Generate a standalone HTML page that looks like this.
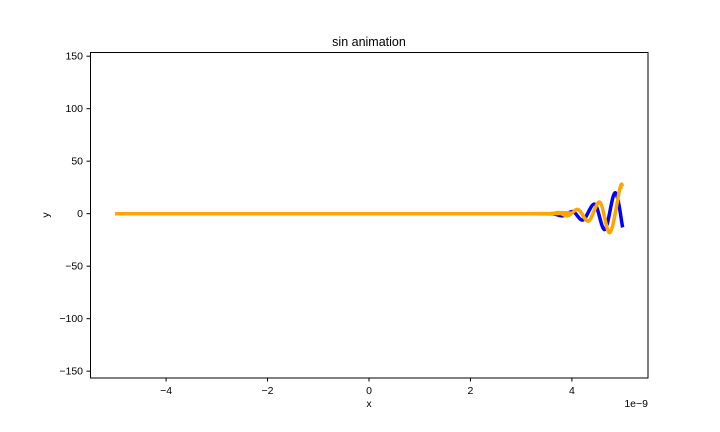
<!DOCTYPE html>
<html><head><meta charset="utf-8"><style>
body{margin:0;background:#fff}
svg{display:block;font-family:"Liberation Sans","DejaVu Sans",sans-serif}
</style></head><body>
<svg id="chart" width="720" height="432">
<rect width="720" height="432" fill="#fff"/>
<text x="369" y="46" text-anchor="middle" font-size="12.5">sin animation</text>
<g id="xt"></g>
<g id="yt"></g>
<g id="plot"></g>
<rect x="90.5" y="52.5" width="557.5" height="325.5" fill="none" stroke="#000" stroke-width="1"/>
<text x="369" y="407" text-anchor="middle" font-size="10.5">x</text>
<text x="49" y="215" text-anchor="middle" font-size="10.5" transform="rotate(-90 49 215)">y</text>
<text x="648" y="407" text-anchor="end" font-size="10.5">1e−9</text>
</svg>
<script>
const xTicks=[-4,-2,0,2,4];
const yTicks=[-150,-100,-50,0,50,100,150];
const blueX=[-5,3.2,3.6,3.82,4.02,4.22,4.45,4.65,4.85,5.0];
const blueY=[0,0,0,-2,2,-6,9,-15,20,-13];
const orangeX=[-5,3.2,3.7,3.92,4.12,4.33,4.55,4.75,4.95,5.0];
const orangeY=[0,0,1,-2,4,-7,11,-18,25,25];
const X0=90,X1=648,Y0=52,Y1=378,xmin=-5.5,xmax=5.5,ymin=-156.5,ymax=154;
const sx=v=>X0+(v-xmin)/(xmax-xmin)*(X1-X0);
const sy=v=>Y1-(v-ymin)/(ymax-ymin)*(Y1-Y0);
const NS="http://www.w3.org/2000/svg";
const xt=document.getElementById('xt'),yt=document.getElementById('yt'),plot=document.getElementById('plot');
xTicks.forEach(t=>{
 const l=document.createElementNS(NS,'line');
 
 
 l.setAttribute('x1',sx(t));l.setAttribute('x2',sx(t));l.setAttribute('y1',378);l.setAttribute('y2',381.5);l.setAttribute('stroke','#000');xt.appendChild(l);
 const s=document.createElementNS(NS,'text');
 
 
 s.setAttribute('x',sx(t));s.setAttribute('y',394);s.setAttribute('text-anchor','middle');s.setAttribute('font-size','10.5');
 s.textContent=(t<0?'−':'')+Math.abs(t);xt.appendChild(s);
});
yTicks.forEach(t=>{
 const l=document.createElementNS(NS,'line');
 
 
 l.setAttribute('x1',86.5);l.setAttribute('x2',90);l.setAttribute('y1',sy(t));l.setAttribute('y2',sy(t));l.setAttribute('stroke','#000');yt.appendChild(l);
 const s=document.createElementNS(NS,'text');
 
 
 s.setAttribute('x',83);s.setAttribute('y',sy(t)+3.5);s.setAttribute('text-anchor','end');s.setAttribute('font-size','10.5');
 s.textContent=(t<0?'−':'')+Math.abs(t);yt.appendChild(s);
});
function line(xs,ys,c,name){
 const P=xs.map((x,i)=>[sx(x),sy(ys[i])]);
 let d='M'+P[0][0]+','+P[0][1];
 for(let i=0;i<P.length-1;i++){
  const p0=P[Math.max(i-1,0)],p1=P[i],p2=P[i+1],p3=P[Math.min(i+2,P.length-1)];
  const c1=[p1[0]+(p2[0]-p0[0])/6,p1[1]+(p2[1]-p0[1])/6];
  const c2=[p2[0]-(p3[0]-p1[0])/6,p2[1]-(p3[1]-p1[1])/6];
  d+=' C'+c1+' '+c2+' '+p2;
 }
 const p=document.createElementNS(NS,'path');
 
 
 p.setAttribute('d',d);
 p.setAttribute('fill','none');p.setAttribute('stroke',c);p.setAttribute('stroke-width','3.5');p.setAttribute('stroke-linejoin','round');
 plot.appendChild(p);
}
line(blueX,blueY,'#0000ff','blue-series');
line(orangeX,orangeY,'#ffa500','orange-series');
</script>
</body></html>
